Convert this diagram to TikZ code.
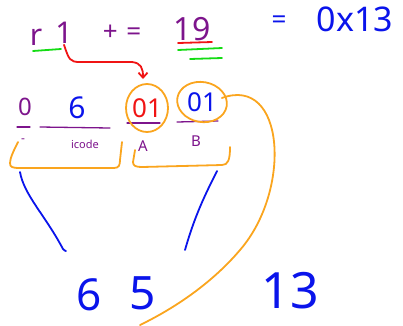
\documentclass[tikz,border=0pt]{standalone}
\usepackage{fontspec}
\setmainfont{Noto Sans}
\usetikzlibrary{arrows.meta}
\definecolor{hpurple}{RGB}{125,20,140}
\definecolor{hblue}{RGB}{10,20,235}
\definecolor{horange}{RGB}{250,165,30}
\definecolor{hgreen}{RGB}{20,220,20}
\definecolor{hred}{RGB}{240,20,20}
\tikzset{
  txt/.style={inner sep=0pt, outer sep=1pt},
  pen/.style={line width=1.8pt, line cap=round, line join=round},
  thin pen/.style={line width=1.3pt, line cap=round, line join=round},
}
\newcommand{\fsz}[1]{\fontsize{#1}{#1}\selectfont}
\begin{document}
\begin{tikzpicture}[x=1pt,y=-1pt]
\useasboundingbox (0,0) rectangle (403,325);
% top line
\node[txt, text=hpurple] (r) at (36,37) {\fsz{30}r};
\node[txt, text=hpurple] (one) at (64,33) {\fsz{30}1};
\node[txt, text=hpurple] (pluseq) at (122,33) {\fsz{26}+\,\,=};
\node[txt, text=hpurple] (nineteen) at (192,29) {\fsz{32}19};
\node[txt, text=hblue] (eq) at (279,22) {\fsz{26}=};
\node[txt, text=hblue] (hex) at (355,19) {\fsz{34}0x13};
% underlines top
\draw[pen, hgreen] (33,51) -- (61,49);
\draw[pen, hred] (178,43) -- (212,42);
\draw[pen, hgreen] (178,50) -- (222,48);
\draw[pen, hgreen] (190,59) -- (222,58);
% row two
\node[txt, text=hpurple] (zero) at (25,107) {\fsz{24}0};
\node[txt, text=hblue] (six) at (77,108) {\fsz{30}6};
\node[txt, text=hred] (aval) at (147,108) {\fsz{26}01};
\node[txt, text=hblue] (bval) at (202,102) {\fsz{26}01};
\draw[thin pen, hpurple] (17,127) -- (30,127);
\draw[thin pen, hpurple] (40,127) -- (110,128);
\draw[thin pen, hpurple] (127,123) -- (160,123);
\draw[thin pen, hpurple] (177,122) -- (218,121);
\node[txt, text=hpurple] (dash) at (23,141) {\fsz{12}-};
\node[txt, text=hpurple] (icode) at (85,144) {\fsz{11}icode};
\node[txt, text=hpurple] (alab) at (143,146) {\fsz{15}A};
\node[txt, text=hpurple] (blab) at (196,141) {\fsz{15}B};
% orange circles
\draw[pen, horange] (aval) ellipse [x radius=21, y radius=24];
\draw[pen, horange, rotate around={-10:(bval)}] (bval) ellipse [x radius=25, y radius=20];
% red arrow
\coordinate (arrowend) at (143,79);
\draw[pen, hred, -{Straight Barb[length=5pt,width=9pt]}] (one.south) .. controls (69,60) and (70,62) .. (80,62) -- (132,62) .. controls (141,63) and (143,68) .. (arrowend);
% orange brackets
\draw[pen, horange] (18,142) .. controls (14,150) and (10,158) .. (10,163) .. controls (10,167) and (12,168) .. (20,168) -- (114,168) .. controls (119,168) and (120,165) .. (120,160) -- (122,142);
\draw[pen, horange] (135,150) -- (133,162) .. controls (133,166) and (136,167) .. (142,167) -- (222,165) .. controls (228,165) and (230,160) .. (230,147);
% orange long curve
\coordinate (curveend) at (140,325);
\draw[pen, horange] (bval.east) ++(4,-4) .. controls (285,75) and (292,190) .. (240,250) .. controls (212,283) and (175,308) .. (curveend);
% blue lines
\draw[pen, hblue] (20,172) .. controls (24,195) and (45,215) .. (63,249) .. controls (64,250) and (65,251) .. (66,251);
\draw[pen, hblue] (217,171) .. controls (205,195) and (195,215) .. (185,250);
% bottom numbers
\node[txt, text=hblue] (sixb) at (89,295) {\fsz{44}6};
\node[txt, text=hblue] (five) at (143,293) {\fsz{46}5};
\node[txt, text=hblue] (thirteen) at (290,291) {\fsz{50}13};
\end{tikzpicture}
\end{document}
